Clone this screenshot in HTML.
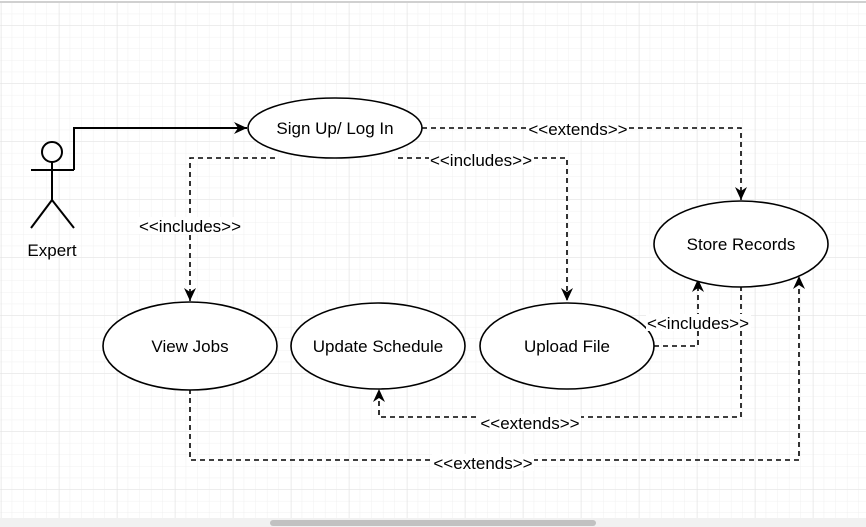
<!DOCTYPE html>
<html><head><style>
html,body{margin:0;padding:0;background:#fff;}
svg{display:block;}
text{font-family:"Liberation Sans",Arial,sans-serif;font-size:17px;fill:#000;}
</style></head><body>
<svg width="866" height="527" viewBox="0 0 866 527" xmlns="http://www.w3.org/2000/svg">
<defs>
<pattern id="minor" x="0.6" y="2.6" width="11.6" height="11.6" patternUnits="userSpaceOnUse">
<path d="M11.6 0V11.6H0" fill="none" stroke="#f0f0f0" stroke-width="1"/>
</pattern>
<pattern id="major" x="1" y="25" width="58" height="58" patternUnits="userSpaceOnUse">
<path d="M0 0V58M0 0H58" fill="none" stroke="#e4e4e4" stroke-width="1"/>
</pattern>
<marker id="ar" markerWidth="14" markerHeight="14" refX="13" refY="6" orient="auto" markerUnits="userSpaceOnUse">
<path d="M0 0L13 6L0 12L4 6Z" fill="#000"/>
</marker>
</defs>
<rect width="866" height="527" fill="#fff"/>
<rect x="0" y="3" width="866" height="515" fill="url(#minor)"/>
<rect x="0" y="3" width="866" height="515" fill="url(#major)"/>
<line x1="0" y1="2" x2="866" y2="2" stroke="#d0d0d0" stroke-width="2"/>
<rect x="0" y="518" width="866" height="9" fill="#f1f1f1"/>
<rect x="270" y="520" width="326" height="6" rx="3" fill="#c1c1c1"/>

<g stroke="#000" stroke-width="2" fill="none">
<circle cx="52" cy="152" r="10" fill="#fff"/>
<line x1="52" y1="162" x2="52" y2="200"/>
<line x1="31" y1="170" x2="74" y2="170"/>
<line x1="52" y1="200" x2="31" y2="228"/>
<line x1="52" y1="200" x2="74" y2="228"/>
<polyline points="74,170 74,128 247,128" marker-end="url(#ar)"/>
</g>
<text x="52" y="256" text-anchor="middle">Expert</text>

<g stroke="#000" stroke-width="1.6" fill="none" stroke-dasharray="5,4">
<polyline points="422,128 741,128 741,200" marker-end="url(#ar)"/>
<polyline points="398,158 567,158 567,301" marker-end="url(#ar)"/>
<polyline points="275,158 190,158 190,301" marker-end="url(#ar)"/>
<polyline points="654,346 698,346 698,279" marker-end="url(#ar)"/>
<polyline points="741,286 741,417 379,417 379,389" marker-end="url(#ar)"/>
<polyline points="190,389 190,460 799,460 799,276" marker-end="url(#ar)"/>
</g>

<g stroke="#000" stroke-width="1.6" fill="#fff">
<ellipse cx="335" cy="128" rx="87" ry="30"/>
<ellipse cx="741" cy="244" rx="87" ry="43"/>
<ellipse cx="190" cy="346" rx="87" ry="44"/>
<ellipse cx="378" cy="346" rx="87" ry="43"/>
<ellipse cx="567" cy="346" rx="87" ry="43"/>
</g>
<text x="335" y="134" text-anchor="middle">Sign Up/ Log In</text>
<text x="741" y="250" text-anchor="middle">Store Records</text>
<text x="190" y="352" text-anchor="middle">View Jobs</text>
<text x="378" y="352" text-anchor="middle">Update Schedule</text>
<text x="567" y="352" text-anchor="middle">Upload File</text>

<g>
<rect x="527" y="121" width="102" height="17" fill="#fff"/>
<text x="578" y="135" text-anchor="middle">&lt;&lt;extends&gt;&gt;</text>
<rect x="429" y="151" width="105" height="17" fill="#fff"/>
<text x="481" y="166" text-anchor="middle">&lt;&lt;includes&gt;&gt;</text>
<rect x="137" y="217" width="106" height="17" fill="#fff"/>
<text x="190" y="232" text-anchor="middle">&lt;&lt;includes&gt;&gt;</text>
<rect x="646" y="314" width="105" height="17" fill="#fff"/>
<text x="698" y="329" text-anchor="middle">&lt;&lt;includes&gt;&gt;</text>
<rect x="479" y="414" width="102" height="17" fill="#fff"/>
<text x="530" y="429" text-anchor="middle">&lt;&lt;extends&gt;&gt;</text>
<rect x="432" y="454" width="102" height="17" fill="#fff"/>
<text x="483" y="469" text-anchor="middle">&lt;&lt;extends&gt;&gt;</text>
</g>
</svg>
</body></html>
